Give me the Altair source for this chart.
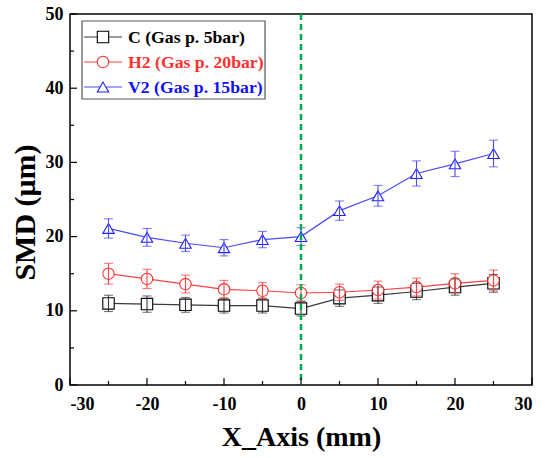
import altair as alt
import pandas as pd

series_names = ["C (Gas p. 5bar)", "H2 (Gas p. 20bar)", "V2 (Gas p. 15bar)"]
x_pos = [-25, -20, -15, -10, -5, 0, 5, 10, 15, 20, 25]
c_vals = [11.0, 10.9, 10.8, 10.7, 10.7, 10.3, 11.7, 12.1, 12.6, 13.2, 13.7]
c_err = [1.1, 1.1, 1.0, 1.0, 1.0, 1.0, 1.1, 1.1, 1.1, 1.1, 1.2]
h2_vals = [15.0, 14.3, 13.6, 12.9, 12.7, 12.4, 12.5, 12.8, 13.2, 13.7, 14.1]
h2_err = [1.4, 1.3, 1.2, 1.2, 1.1, 1.1, 1.1, 1.2, 1.2, 1.3, 1.4]
v2_vals = [21.1, 19.9, 19.1, 18.5, 19.6, 20.0, 23.5, 25.5, 28.5, 29.8, 31.2]
v2_err = [1.3, 1.2, 1.1, 1.1, 1.1, 1.2, 1.3, 1.4, 1.7, 1.7, 1.8]

line_colors = ["#3a3a3a", "#ff4040", "#4a4aff"]
mark_colors = ["#000000", "#ff3030", "#2020ff"]
text_colors = ["#000000", "#ff3030", "#1010ff"]
shapes = ["square", "circle", "triangle-up"]

y_major = [0, 10, 20, 30, 40, 50]
y_minor = [5, 15, 25, 35, 45]
x_major = [-30, -20, -10, 0, 10, 20, 30]
x_minor = [-25, -15, -5, 5, 15, 25]

FONT = "Liberation Serif"
W, H = 462, 371

rows = []
for name, vals, errs in zip(series_names, [c_vals, h2_vals, v2_vals], [c_err, h2_err, v2_err]):
    for xv, yv, ev in zip(x_pos, vals, errs):
        rows.append({"series": name, "x": xv, "y": yv, "lo": yv - ev, "hi": yv + ev})
df = pd.DataFrame(rows)

xscale = alt.Scale(domain=[-30, 30], nice=False, zero=False)
yscale = alt.Scale(domain=[0, 50], nice=False, zero=False)

xaxis = alt.Axis(values=x_major, ticks=False, domain=False, grid=False,
                 labelFont=FONT, labelFontWeight="bold", labelFontSize=18, labelColor="black",
                 labelPadding=10, labelExpr="datum.value + ''",
                 title="X_Axis (mm)", titleFont=FONT, titleFontWeight="bold", titleFontSize=28,
                 titleColor="black", titlePadding=10)
yaxis = alt.Axis(values=y_major, ticks=False, domain=False, grid=False,
                 labelFont=FONT, labelFontWeight="bold", labelFontSize=18, labelColor="black",
                 labelPadding=7,
                 title="SMD (μm)", titleFont=FONT, titleFontWeight="bold", titleFontSize=30,
                 titleColor="black", titlePadding=5, titleY=198)

base = alt.Chart(df)

lines = base.mark_line(strokeWidth=1.2).encode(
    x=alt.X("x:Q", scale=xscale, axis=xaxis),
    y=alt.Y("y:Q", scale=yscale, axis=yaxis),
    color=alt.Color("series:N", scale=alt.Scale(domain=series_names, range=line_colors), legend=None),
    detail="series:N",
)

points = base.mark_point(filled=False, fill="white", fillOpacity=1, size=130, strokeWidth=1.1).encode(
    x=alt.X("x:Q", scale=xscale),
    y=alt.Y("y:Q", scale=yscale),
    stroke=alt.Stroke("series:N", scale=alt.Scale(domain=series_names, range=mark_colors), legend=None),
    shape=alt.Shape("series:N", scale=alt.Scale(domain=series_names, range=shapes), legend=None),
)

err_rule = base.mark_rule(strokeWidth=1.1).encode(
    x=alt.X("x:Q", scale=xscale),
    y=alt.Y("lo:Q", scale=yscale),
    y2="hi:Q",
    color=alt.Color("series:N", scale=alt.Scale(domain=series_names, range=mark_colors), legend=None),
)
cap_lo = base.mark_tick(orient="horizontal", size=9, thickness=1.1).encode(
    x=alt.X("x:Q", scale=xscale),
    y=alt.Y("lo:Q", scale=yscale),
    color=alt.Color("series:N", scale=alt.Scale(domain=series_names, range=mark_colors), legend=None),
)
cap_hi = base.mark_tick(orient="horizontal", size=9, thickness=1.1).encode(
    x=alt.X("x:Q", scale=xscale),
    y=alt.Y("hi:Q", scale=yscale),
    color=alt.Color("series:N", scale=alt.Scale(domain=series_names, range=mark_colors), legend=None),
)

vline = alt.Chart(pd.DataFrame({"v": [0]})).mark_rule(
    color="#00a84f", strokeWidth=2.5, strokeDash=[6, 4]
).encode(x=alt.X("v:Q", scale=xscale))

def yticks(vals, length):
    return alt.Chart(pd.DataFrame({"v": vals})).mark_rule(color="black", strokeWidth=1.2).encode(
        y=alt.Y("v:Q", scale=yscale), x=alt.value(0), x2=alt.value(length))

def xticks(vals, length):
    return alt.Chart(pd.DataFrame({"v": vals})).mark_rule(color="black", strokeWidth=1.2).encode(
        x=alt.X("v:Q", scale=xscale), y=alt.value(H), y2=alt.value(H - length))

# legend
legend_box = alt.Chart(pd.DataFrame({"a": [0]})).mark_rect(
    fill="white", stroke="#555555", strokeWidth=1.2
).encode(x=alt.value(12), x2=alt.value(195), y=alt.value(7), y2=alt.value(85))

legend_layers = [legend_box]
for i, name in enumerate(series_names):
    ly = 23 + 25 * i
    one = pd.DataFrame({"label": [name]})
    legend_layers.append(alt.Chart(one).mark_rule(color=line_colors[i], strokeWidth=1.2).encode(
        x=alt.value(14), x2=alt.value(52), y=alt.value(ly)))
    legend_layers.append(alt.Chart(one).mark_point(
        shape=shapes[i], filled=False, fill="white", fillOpacity=1, size=130,
        stroke=mark_colors[i], strokeWidth=1.1).encode(x=alt.value(33), y=alt.value(ly)))
    legend_layers.append(alt.Chart(one).mark_text(
        font=FONT, fontWeight="bold", fontSize=17.7, color=text_colors[i], align="left", baseline="middle"
    ).encode(x=alt.value(58), y=alt.value(ly + 1), text="label:N"))

chart = alt.layer(
    lines, points, err_rule, cap_lo, cap_hi, vline,
    yticks(y_major, 7), yticks(y_minor, 4), xticks(x_major, 7), xticks(x_minor, 4),
    *legend_layers
).properties(
    width=W, height=H,
    autosize=alt.AutoSizeParams(type="none"),
    padding={"left": 70, "top": 14, "right": 18, "bottom": 73},
    background="white",
).configure_view(stroke="black", strokeWidth=1.5)

chart.save("out.html", embed_options={"renderer": "svg", "actions": False})
